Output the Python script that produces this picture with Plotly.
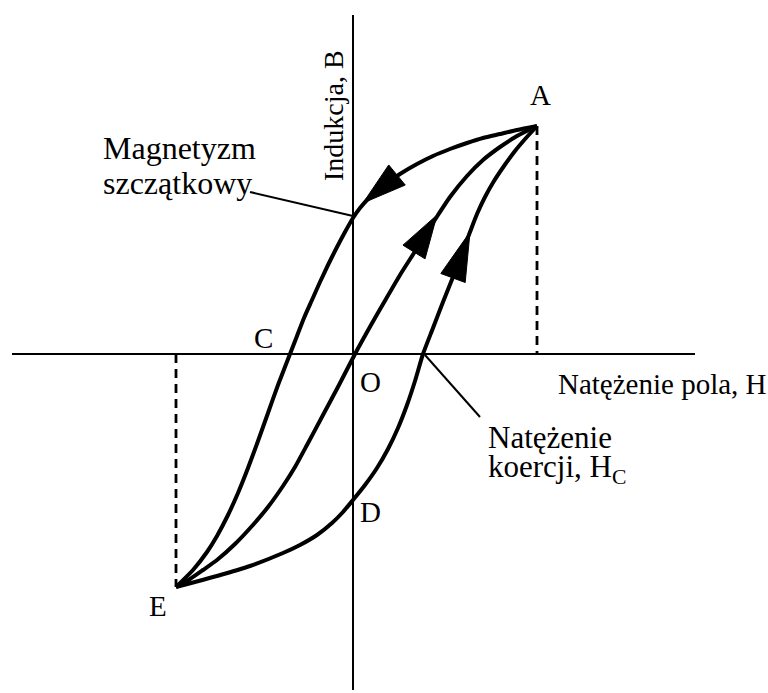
import plotly.graph_objects as go
import numpy as np

# ---- data (diagram units: H = field strength, B = induction; origin O) ----
# descending branch A -> (remanence) -> C -> E
upper_H = [184, 164, 147, 130, 114, 97, 80, 64, 47, 30, 17, 7, 0, -8, -17, -25, -33, -41, -49, -56, -63,
           -75, -85, -95, -105, -115, -125, -136, -146, -160, -177]
upper_B = [228, 224, 220, 216, 211, 205, 198, 190, 180, 168, 157, 146, 136, 122, 105, 89, 72, 54, 36, 18, 0,
           -31, -59, -87, -114, -139, -161, -182, -198, -216, -233]

# initial magnetisation curve (through O)
initial_H = [-177, -163, -150, -136, -118, -101, -85, -70, -58, -46, -30, -14, 2, 18, 33, 47, 61, 73, 85,
             97, 114, 130, 147, 164, 184]
initial_B = [-233, -225, -216, -206, -190, -172, -153, -132, -113, -91, -61, -31, 0, 29, 55, 79, 101, 120, 139,
             157, 178, 194, 207, 218, 228]

# ascending branch E -> D -> Hc -> A
lower_H = [-177, -158, -136, -103, -70, -53, -36, -21, -10, 0, 12, 24, 35, 45, 54, 62, 70, 80, 90, 100,
           109, 117, 124, 132, 141, 151, 162, 173, 184]
lower_B = [-233, -228, -222, -212, -199, -191, -181, -169, -158, -146, -131, -114, -95, -74, -51, -27, 0, 26,
           52, 77, 101, 122, 140, 157, 173, 188, 203, 216, 228]

# arrow heads: tip and base centre, one per branch
arrow_tip_H = [10, 84, 117]
arrow_tip_B = [151, 139, 122]
arrow_base_H = [44, 61, 100]
arrow_base_B = [179, 102, 76]

# axes extents
H_axis = [-341, 342]
B_axis = [339, -336]

# loop tips A and E
A = (184, 228)
E = (-177, -233)

# leader lines
lead_mag_H = [-103, 0]
lead_mag_B = [162, 138]
lead_coer_H = [72, 127]
lead_coer_B = [-1, -63]

FONT = "Liberation Serif"
black = "#000000"
fig = go.Figure()

# axes
fig.add_trace(go.Scatter(x=H_axis, y=[0, 0], mode="lines", line=dict(color=black, width=2), hoverinfo="skip"))
fig.add_trace(go.Scatter(x=[0, 0], y=B_axis, mode="lines", line=dict(color=black, width=2), hoverinfo="skip"))
# dashed drop lines
fig.add_trace(go.Scatter(x=[A[0], A[0]], y=[A[1], 0], mode="lines",
                         line=dict(color=black, width=2.8, dash="9px,6px"), hoverinfo="skip"))
fig.add_trace(go.Scatter(x=[E[0], E[0]], y=[0, E[1]], mode="lines",
                         line=dict(color=black, width=2.8, dash="9px,6px"), hoverinfo="skip"))
# leader lines
fig.add_trace(go.Scatter(x=lead_mag_H, y=lead_mag_B, mode="lines", line=dict(color=black, width=2), hoverinfo="skip"))
fig.add_trace(go.Scatter(x=lead_coer_H, y=lead_coer_B, mode="lines", line=dict(color=black, width=2), hoverinfo="skip"))

# hysteresis curves
for hx, by in [(upper_H, upper_B), (initial_H, initial_B), (lower_H, lower_B)]:
    fig.add_trace(go.Scatter(x=hx, y=by, mode="lines",
                             line=dict(color=black, width=4, shape="spline", smoothing=0.6),
                             hoverinfo="skip"))

# arrow heads
half_w = 13
for tx, ty, bx, byy in zip(arrow_tip_H, arrow_tip_B, arrow_base_H, arrow_base_B):
    d = np.array([tx - bx, ty - byy], dtype=float)
    d /= np.linalg.norm(d)
    n = np.array([-d[1], d[0]])
    p1 = np.array([bx, byy]) + n * half_w
    p2 = np.array([bx, byy]) - n * half_w
    fig.add_trace(go.Scatter(x=[tx, p1[0], p2[0], tx], y=[ty, p1[1], p2[1], ty],
                             mode="lines", fill="toself", fillcolor=black,
                             line=dict(color=black, width=1), hoverinfo="skip"))


def label(text, x, y, size, xanchor="center", angle=0):
    fig.add_annotation(x=x, y=y, text=text, showarrow=False, xanchor=xanchor, yanchor="middle",
                       textangle=angle, borderpad=0,
                       font=dict(family=FONT, size=size, color=black))


label("A", 187, 259, 29)
label("C", -90, 16, 29)
label("O", 17, -28, 29)
label("D", 17, -158, 29)
label("E", -195, -252, 29)
label("Indukcja, B", -20, 238, 28, angle=-90)
label("Magnetyzm", -251, 206, 32, xanchor="left")
label("szczątkowy", -251, 171, 32, xanchor="left")
label("Natężenie pola, H", 204, -30, 29, xanchor="left")
label("Natężenie", 134, -83, 31, xanchor="left")
label("koercji, H<sub>C</sub>", 134, -115, 31, xanchor="left")

fig.update_layout(
    width=768, height=693,
    margin=dict(l=0, r=0, t=0, b=0),
    paper_bgcolor="white", plot_bgcolor="white",
    showlegend=False,
    xaxis=dict(range=[-353, 415], visible=False, fixedrange=True),
    yaxis=dict(range=[-339, 354], visible=False, fixedrange=True),
)
fig.write_html("out.html", config={"displayModeBar": False},
               post_script="document.body.style.margin='0';")
